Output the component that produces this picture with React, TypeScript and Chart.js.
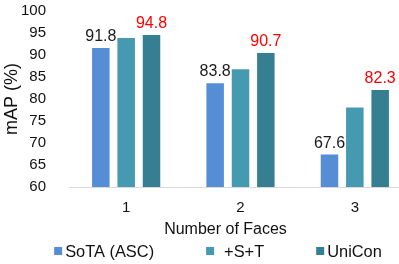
import React, { useEffect, useRef } from "react";
import { Chart, registerables } from "chart.js";

Chart.register(...registerables);

// ---- data ----
const categories = ["1", "2", "3"];
const seriesNames = ["SoTA (ASC)", "+S+T", "UniCon"];
const sotaValues = [91.8, 83.8, 67.6];
const stValues = [94.1, 87.0, 78.3];
const uniconValues = [94.8, 90.7, 82.3];
const yMin = 60;
const yMax = 100;
const yStep = 5;
const yTitle = "mAP (%)";
const xTitle = "Number of Faces";

// ---- styles ----
const FONT = "'Liberation Sans', Arial, Helvetica, sans-serif";
const seriesColors = ["#558ED5", "#4599B1", "#367F93"];
const labelColors: (string | null)[] = ["#1a1a1a", null, "#FF0000"];
const legendTextIndent = [0, 7, 0];
const TEXT = "#111111";

const valueLabelPlugin = {
  id: "valueLabels",
  afterDatasetsDraw(chart: any) {
    const ctx = chart.ctx;
    ctx.save();
    ctx.font = `16px ${FONT}`;
    ctx.textAlign = "center";
    ctx.textBaseline = "alphabetic";
    chart.data.datasets.forEach((ds: any, i: number) => {
      const color = labelColors[i];
      if (!color) return;
      const meta = chart.getDatasetMeta(i);
      meta.data.forEach((bar: any, j: number) => {
        ctx.fillStyle = color;
        ctx.fillText(Number(ds.data[j]).toFixed(1), bar.x, bar.y - 6);
      });
    });
    ctx.restore();
  },
};

const legendTitlePlugin = {
  id: "legendTitle",
  afterDraw(chart: any) {
    const ctx = chart.ctx;
    ctx.save();
    // x axis title
    ctx.font = `16px ${FONT}`;
    ctx.fillStyle = TEXT;
    ctx.textAlign = "center";
    ctx.textBaseline = "alphabetic";
    ctx.fillText(xTitle, 225.5, 234);

    // legend
    ctx.font = `16.4px ${FONT}`;
    const box = 8;
    const gapBoxText = 3;
    const gapItems = 52;
    const widths = chart.data.datasets.map(
      (ds: any, i: number) =>
        box + gapBoxText + legendTextIndent[i] + ctx.measureText(ds.label).width
    );
    const total =
      widths.reduce((a: number, b: number) => a + b, 0) +
      gapItems * (widths.length - 1);
    let x = 218 - total / 2;
    const baseline = 257;
    ctx.textAlign = "left";
    chart.data.datasets.forEach((ds: any, i: number) => {
      ctx.fillStyle = ds.backgroundColor;
      ctx.fillRect(x, baseline - 10, box, box);
      ctx.fillStyle = TEXT;
      ctx.fillText(ds.label, x + box + gapBoxText + legendTextIndent[i], baseline);
      x += widths[i] + gapItems;
    });
    ctx.restore();
  },
};

export default function App() {
  const canvasRef = useRef<HTMLCanvasElement | null>(null);

  useEffect(() => {
    if (!canvasRef.current) return;
    const seriesValues = [sotaValues, stValues, uniconValues];
    const chart = new Chart(canvasRef.current, {
      type: "bar",
      data: {
        labels: categories,
        datasets: seriesNames.map((name, i) => ({
          label: name,
          data: seriesValues[i],
          backgroundColor: seriesColors[i],
          borderColor: "rgba(255,255,255,0.45)",
          borderWidth: 1,
          categoryPercentage: 0.665,
          barPercentage: 0.77,
        })),
      },
      options: {
        animation: false,
        responsive: false,
        maintainAspectRatio: false,
        layout: { padding: { top: 0, bottom: 0, left: 0, right: 0 } },
        plugins: {
          legend: { display: false },
          tooltip: { enabled: false },
        },
        scales: {
          x: {
            grid: { display: false },
            border: { display: true, color: "#d9d9d9", width: 1 },
            ticks: {
              font: { family: FONT, size: 15 },
              color: TEXT,
              padding: 4,
            },
            afterFit: (s: any) => {
              s.height = 77;
              s.paddingLeft = 0;
              s.paddingRight = 0;
            },
          },
          y: {
            min: yMin,
            max: yMax,
            ticks: {
              stepSize: yStep,
              autoSkip: false,
              font: { family: FONT, size: 15 },
              color: TEXT,
              padding: 15,
            },
            grid: { display: false },
            border: { display: false },
            title: {
              display: true,
              text: yTitle,
              font: { family: FONT, size: 18 },
              color: TEXT,
              padding: { top: 1, bottom: 0 },
            },
            afterFit: (s: any) => {
              s.width = 69;
              s.paddingTop = 11;
              s.paddingBottom = 0;
            },
          },
        },
      },
      plugins: [valueLabelPlugin, legendTitlePlugin],
    } as any);
    return () => chart.destroy();
  }, []);

  return (
    <div
      style={{
        position: "fixed",
        left: 0,
        top: 0,
        width: 399,
        height: 264,
        overflow: "hidden",
        background: "#fff",
      }}
    >
      <canvas
        ref={canvasRef}
        width={412}
        height={264}
        style={{ display: "block", width: 412, height: 264 }}
      />
    </div>
  );
}
